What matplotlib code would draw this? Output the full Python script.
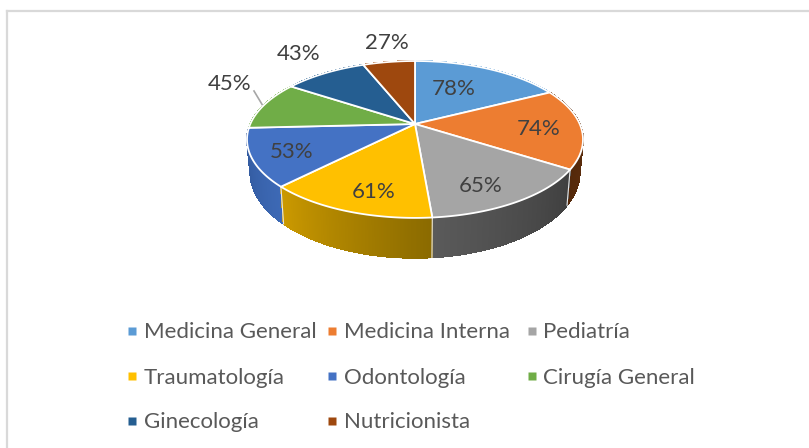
import numpy as np
import matplotlib
matplotlib.use("Agg")
import matplotlib.pyplot as plt

plt.rcParams['font.family'] = ['Lato', 'DejaVu Sans']

categories = ["Medicina General", "Medicina Interna", "Pediatría", "Traumatología",
              "Odontología", "Cirugía General", "Ginecología", "Nutricionista"]
values = [78, 74, 65, 61, 53, 45, 43, 27]
colors = ["#5B9BD5", "#ED7D31", "#A5A5A5", "#FFC000", "#4472C4", "#70AD47", "#255E91", "#9E480E"]
# wall colour at start / end of each slice (going clockwise)
wall_start = ["#5B9BD5", "#6b3510", "#3f3f3f", "#8a6a00", "#3d69b5", "#70AD47", "#255E91", "#9E480E"]
wall_end = ["#5B9BD5", "#54290b", "#5a5a5a", "#cc9a00", "#2f5597", "#70AD47", "#255E91", "#9E480E"]
label_pos = [(454, 89), (539, 129), (481, 186), (374, 192), (292, 152), (230, 84), (299, 54), (387, 43)]

W, H = 809, 448
fig = plt.figure(figsize=(W / 100, H / 100), dpi=100)
ax = fig.add_axes([0, 0, 1, 1])
ax.set_xlim(0, W)
ax.set_ylim(H, 0)
ax.axis('off')

# apex of the pie and perspective of the tilted disc
cx, cy = 415, 124
A, B, k = 164.7, 75.4, 0.197


def top_rim(t):
    d = 1 + k * np.cos(t)
    return cx + A * np.sin(t) / d, cy - B * np.cos(t) / d


def bottom_rim(t):
    x, y = top_rim(t)
    return cx + (x - cx) * 0.98, cy + (y - cy) * 1.09 + 31.5


edges = np.cumsum([0] + values) / sum(values) * 2 * np.pi

# chart frame, no right or bottom side in the picture
ax.plot([7, 7], [H, 11], color="#d9d9d9", lw=1.6)
ax.plot([7, W], [11, 11], color="#d9d9d9", lw=1.6)

# side walls, sides first then towards the front
strips = []
for i in range(len(values)):
    n = max(int(values[i]) * 2, 4)
    ts = np.linspace(edges[i], edges[i + 1], n + 1)
    c0 = np.array(matplotlib.colors.to_rgb(wall_start[i]))
    c1 = np.array(matplotlib.colors.to_rgb(wall_end[i]))
    for j in range(n):
        strips.append((ts[j], ts[j + 1], c0 + (c1 - c0) * j / (n - 1), i))
strips.sort(key=lambda s: np.cos((s[0] + s[1]) / 2), reverse=True)
for t0, t1, col, i in strips:
    t = np.linspace(t0, t1, 4)
    xa, ya = top_rim(t)
    xb, yb = bottom_rim(t[::-1])
    ax.fill(np.r_[xa, xb], np.r_[ya, yb], facecolor=col, edgecolor=col, lw=0.6,
            antialiased=False, zorder=2)
    # smooth lower edge
    ax.plot(xb, yb, color=col, lw=0.8, zorder=2, solid_capstyle='round')

# walls meet with a thin light line on the front
for e in edges[2:5]:
    xa, ya = top_rim(e)
    xb, yb = bottom_rim(e)
    ax.plot([xa, xb], [ya, yb], color="#e8e8e8", lw=0.8, zorder=3)

# top face
for i in range(len(values)):
    t = np.linspace(edges[i], edges[i + 1], 80)
    x, y = top_rim(t)
    ax.fill(np.r_[cx, x], np.r_[cy, y], facecolor=colors[i], edgecolor="white", lw=1.3, zorder=4,
            joinstyle='round')

for v, (lx, ly) in zip(values, label_pos):
    ax.text(lx, ly, f"{v}%", color="#404040", fontsize=16, ha='center', va='center', zorder=6)

# leader line for the 45% label
ax.plot([254, 263], [91, 106], color="#a6a6a6", lw=1.2, zorder=3)

# legend
col_x = [132, 332, 532]
row_y = [331, 376, 421]
for i, name in enumerate(categories):
    mx, my = col_x[i % 3], row_y[i // 3]
    ax.plot(mx, my, marker='s', ms=5.6, mec='none', color=colors[i], zorder=6)
    ax.text(mx + 12 - (i % 3 == 2), my + 1.5, name, color="#595959", fontsize=16, ha='left', va='center', zorder=6)

fig.savefig("out.png", dpi=100)
